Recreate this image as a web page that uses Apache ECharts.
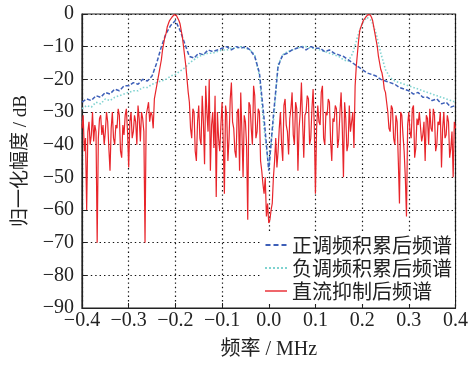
<!DOCTYPE html>
<html>
<head>
<meta charset="utf-8">
<script src="https://cdn.jsdelivr.net/npm/echarts@6/dist/echarts.min.js"></script>
<style>
  html, body { margin: 0; padding: 0; background: #fff; }
  #chart { width: 471px; height: 365px; }
</style>
</head>
<body>
<div id="chart"></div>
<script>
// frequency grid (MHz)
var freqStart = -0.4;
var redStep = 0.0025;
var accStep = 0.01;

// 直流抑制后频谱 (dB), one value every 0.0025 MHz from -0.4
var redDb = [
  -35, -31, -42, -38, -60, -36, -33, -40, -37, -30,
  -39, -34, -36, -70, -38, -32, -31, -37, -34, -40,
  -36, -30, -33, -41, -48, -35, -30, -38, -40, -34,
  -35, -29, -31, -42, -44, -34, -37, -31, -29, -36,
  -47, -33, -30, -38, -36, -31, -33, -40, -28, -32,
  -39, -30, -32, -36, -70, -31, -29, -27, -33, -30,
  -31, -35, -26, -24, -22, -20, -18, -16, -14, -11,
  -9, -7, -6, -4, -3, -2, -1.5, -1, -0.5, -0.2,
  0, -0.5, -1, -2, -3, -5, -7, -10, -13, -16,
  -20, -24, -27, -35, -38, -29, -30, -42, -45, -33,
  -28, -38, -40, -25, -33, -46, -22, -30, -36, -20,
  -48, -34, -30, -41, -25, -56, -30, -38, -42, -34,
  -27, -39, -55, -28, -31, -45, -38, -26, -21, -33,
  -35, -42, -44, -30, -29, -48, -24, -36, -50, -31,
  -33, -40, -63, -27, -28, -35, -40, -22, -25, -38,
  -36, -29, -30, -45, -48, -52, -55, -50, -62, -58,
  -64, -63, -60, -58, -50, -45, -38, -47, -42, -35,
  -30, -40, -45, -28, -26, -34, -36, -43, -32, -29,
  -24, -37, -40, -27, -29, -48, -35, -30, -21, -33,
  -44, -31, -30, -25, -26, -40, -38, -29, -23, -34,
  -55, -35, -28, -33, -34, -24, -22, -38, -40, -30,
  -31, -26, -27, -39, -45, -32, -33, -28, -29, -41,
  -38, -30, -24, -35, -50, -27, -32, -42, -40, -28,
  -36, -33, -30, -41, -22, -16, -12, -8, -5, -4,
  -3, -2, -1.5, -1, -0.5, -0.2, 0, -0.3, -1, -2,
  -4, -6, -8, -10, -13, -15, -17, -18, -20, -23,
  -24, -27, -30, -35, -36, -28, -29, -38, -40, -31,
  -33, -45, -58, -30, -31, -37, -42, -50, -62, -34,
  -30, -36, -38, -29, -28, -44, -41, -32, -34, -30,
  -30, -39, -37, -33, -45, -31, -32, -40, -29, -35,
  -36, -29, -31, -42, -40, -33, -34, -30, -47, -35,
  -30, -38, -37, -31, -33, -44, -41, -36, -50, -33,
  -35
];

// 正调频积累后频谱 (dB), one value every 0.01 MHz from -0.4
var upDb = [
  -27, -26, -26.5, -25, -25.5, -24, -24.5, -23, -23.5, -22,
  -22, -21, -21.5, -20, -20.5, -19, -15, -10, -6, -3.5,
  -2, -5, -9, -13, -13.5, -12, -12.5, -11, -11.5, -11,
  -10.5, -10, -11, -10, -10.5, -10, -11, -13, -18, -32,
  -48, -31, -16, -12.5, -12, -11, -10.5, -10, -11, -10,
  -10.5, -10.5, -11.5, -11, -12, -12.5, -13, -14, -15, -16,
  -17, -18, -18.5, -19, -20, -20.5, -21, -21.5, -22.5, -23,
  -23.5, -24.5, -24, -25.5, -25.5, -26.5, -26, -27.5, -27, -28.5, -28
];

// 负调频积累后频谱 (dB), one value every 0.01 MHz from -0.4
var downDb = [
  -29, -28, -28.5, -27, -27.5, -26, -26.5, -25.5, -25, -24.5,
  -24, -23.5, -23.5, -22.5, -22.5, -21.5, -21, -20.5, -20, -19,
  -18.5, -17.5, -16.5, -15, -14, -13, -12.5, -12, -12, -11.5,
  -11, -11, -10.5, -10.5, -10, -10.5, -11, -12.5, -19, -35,
  -47, -33, -15.5, -12.5, -11.5, -11, -10.5, -10, -10, -10.5,
  -10.5, -11, -11.5, -12, -12.5, -13, -14, -14.5, -12, -7,
  -3, -1, -2, -6, -12, -17, -19.5, -20.5, -21, -21.5,
  -22, -22.5, -23, -23.5, -24, -24.5, -25, -25.5, -26, -26.5, -27
];

var seriesNames = ['正调频积累后频谱', '负调频积累后频谱', '直流抑制后频谱'];
var colors = { up: '#3d5fb8', down: '#7fd3d0', dc: '#e8252b' };

function toPairs(start, step, vals) {
  var out = [];
  for (var i = 0; i < vals.length; i++) {
    out.push([+(start + i * step).toFixed(4), vals[i]]);
  }
  return out;
}

function minusSign(s) {
  return String(s).replace('-', '\u2212');
}

var serif = "'Liberation Serif', 'Times New Roman', serif";
var mixed = "'Liberation Serif', 'Noto Sans CJK SC', serif";
var gridLine = { show: true, lineStyle: { color: '#111', type: [1.4, 3], width: 1.2 } };

var myChart = echarts.init(document.getElementById('chart'));
var option = {
  animation: false,
  backgroundColor: '#fff',
  grid: {
    left: 82, right: 12, top: 14, bottom: 52,
    show: true, borderColor: '#222', borderWidth: 1.2, backgroundColor: 'transparent'
  },
  legend: {
    orient: 'vertical',
    right: 16,
    top: 232,
    itemWidth: 22,
    itemHeight: 2,
    itemGap: 3,
    backgroundColor: '#fff',
    padding: [3, 3, 3, 3],
    textStyle: { fontFamily: "'Noto Sans CJK SC'", fontSize: 20, color: '#222' },
    data: [
      { name: seriesNames[0], icon: 'path://M0,0h5v2h-5zM8,0h5v2h-5zM16,0h5v2h-5z', itemStyle: { color: colors.up } },
      { name: seriesNames[1], icon: 'path://M0,0h2v2h-2zM4,0h2v2h-2zM8,0h2v2h-2zM12,0h2v2h-2zM16,0h2v2h-2zM20,0h2v2h-2z', itemStyle: { color: colors.down } },
      { name: seriesNames[2], icon: 'path://M0,0h22v1.4h-22z', itemStyle: { color: colors.dc } }
    ]
  },
  xAxis: {
    type: 'value',
    min: -0.4, max: 0.4, interval: 0.1,
    name: '频率 / MHz',
    nameLocation: 'middle',
    nameGap: 32,
    nameTextStyle: { fontFamily: mixed, fontSize: 20, color: '#222' },
    axisLine: { onZero: false, lineStyle: { color: '#222', width: 1.2 } },
    axisTick: { inside: true, length: 5, lineStyle: { color: '#222' } },
    axisLabel: {
      fontFamily: serif, fontSize: 20, color: '#222', margin: 3,
      formatter: function (v) { return minusSign(v.toFixed(1)); }
    },
    splitLine: gridLine
  },
  yAxis: {
    type: 'value',
    min: -90, max: 0, interval: 10,
    name: '归一化幅度 / dB',
    nameLocation: 'middle',
    nameGap: 51,
    nameTextStyle: { fontFamily: mixed, fontSize: 19, color: '#222' },
    axisLine: { show: true, onZero: false, lineStyle: { color: '#222', width: 1.2 } },
    axisTick: { show: true, inside: true, length: 5, lineStyle: { color: '#222' } },
    axisLabel: {
      fontFamily: serif, fontSize: 20, color: '#222', margin: 8,
      formatter: function (v) { return minusSign(v); }
    },
    splitLine: gridLine
  },
  series: [
    {
      name: seriesNames[1],
      type: 'line',
      symbol: 'none',
      data: toPairs(freqStart, accStep, downDb),
      lineStyle: { color: colors.down, width: 1.6, type: [1.5, 2] },
      itemStyle: { color: colors.down },
      z: 2
    },
    {
      name: seriesNames[0],
      type: 'line',
      symbol: 'none',
      data: toPairs(freqStart, accStep, upDb),
      lineStyle: { color: colors.up, width: 1.5, type: [4, 2] },
      itemStyle: { color: colors.up },
      z: 3
    },
    {
      name: seriesNames[2],
      type: 'line',
      symbol: 'none',
      data: toPairs(freqStart, redStep, redDb),
      lineStyle: { color: colors.dc, width: 1.2 },
      itemStyle: { color: colors.dc },
      z: 4
    }
  ]
};

myChart.setOption(option);
window.addEventListener('resize', function () {
  myChart.resize();
});
</script>
</body>
</html>
